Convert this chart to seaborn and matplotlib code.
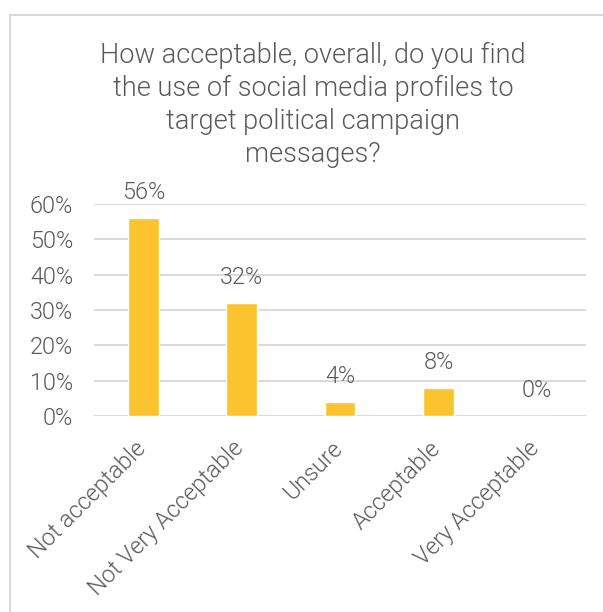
import matplotlib
matplotlib.use("Agg")
import matplotlib.pyplot as plt
import matplotlib.transforms as mtransforms
import seaborn as sns
import pandas as pd
from matplotlib.patches import Rectangle

# Survey responses (share of respondents, %)
categories = ["Not acceptable", "Not Very Acceptable", "Unsure", "Acceptable", "Very Acceptable"]
shares = [56, 32, 4, 8, 0]
y_ticks = [0, 10, 20, 30, 40, 50, 60]
title = ("How acceptable, overall, do you find\n"
         "the use of social media profiles to\n"
         "target political campaign\n"
         "messages?")

sns.set_theme(style="white")
plt.rcParams["font.family"] = ["Roboto", "DejaVu Sans"]

TEXT = "#595959"
GRID = "#D9D9D9"
BAR = "#FBC32D"
WEIGHT = 300
FS = 16.8

df = pd.DataFrame({"category": categories, "share": shares})

fig = plt.figure(figsize=(6.03, 6.12), dpi=100)
fig.patch.set_facecolor("white")

# chart-area frame
fig.patches.append(Rectangle((10 / 603, -0.1), 1.2, 1 - 15 / 612 + 0.1,
                             transform=fig.transFigure, fill=False,
                             edgecolor=GRID, linewidth=1.5))

ax = fig.add_axes([94 / 603, 1 - 416 / 612, (586 - 94) / 603, (416 - 204) / 612])
sns.barplot(data=df, x="category", y="share", color=BAR, width=0.315,
            saturation=1, ax=ax)

ax.set_ylim(0, 60)
ax.set_xlim(-0.5, len(categories) - 0.5)
ax.set_yticks(y_ticks)
ax.set_yticklabels([f"{t}%" for t in y_ticks])
ax.set_axisbelow(True)
ax.yaxis.grid(True, color=GRID, linewidth=1.4)
ax.xaxis.grid(False)
for s in ax.spines.values():
    s.set_visible(False)
ax.set_xlabel("")
ax.set_ylabel("")

ax.tick_params(axis="y", length=0, pad=15, labelsize=FS, labelcolor=TEXT)
ax.tick_params(axis="x", length=0, pad=15, labelsize=FS, labelcolor=TEXT)
shift = mtransforms.ScaledTranslation(0.07, 0, fig.dpi_scale_trans)
for lab in ax.get_xticklabels():
    lab.set_rotation(45)
    lab.set_ha("right")
    lab.set_va("top")
    lab.set_fontweight(WEIGHT)
    lab.set_transform(lab.get_transform() + shift)
for lab in ax.get_yticklabels():
    lab.set_fontweight(WEIGHT)

ax.bar_label(ax.containers[0], labels=[f"{v}%" for v in shares],
             padding=10, fontsize=FS, color=TEXT, fontweight=WEIGHT)

fig.text(313 / 603, 1 - 42 / 612, title, ha="center", va="top",
         fontsize=19.5, color=TEXT, fontweight=WEIGHT, linespacing=1.28)

fig.savefig("out.png", dpi=100, facecolor="white")
